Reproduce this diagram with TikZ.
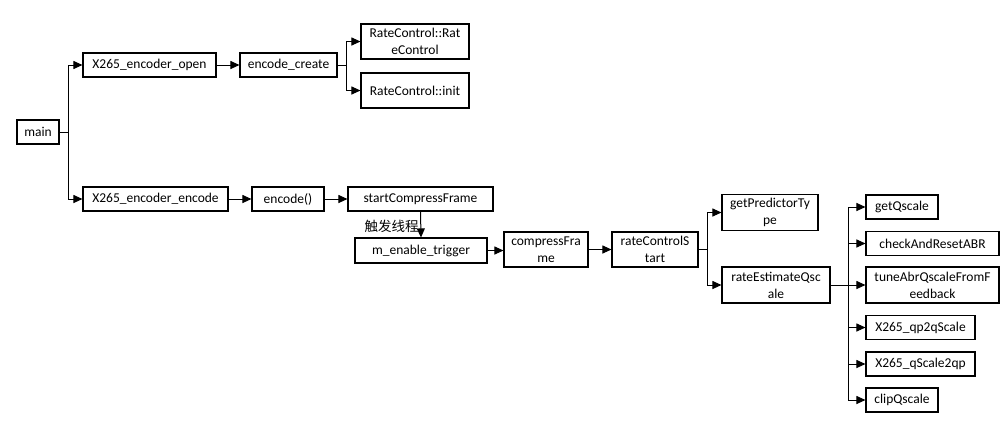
\documentclass[tikz,border=0pt]{standalone}
\usepackage{fontspec}
\setmainfont{Carlito}
\newfontfamily\cjk{Noto Sans CJK SC}
\usetikzlibrary{arrows.meta}
\tikzset{
  box/.style={draw=black, line width=1.1pt, fill=white, inner sep=0pt, align=center,
    font=\fontsize{13.5}{17}\selectfont, minimum height=24pt},
  arr/.style={line width=1pt, -{Triangle[length=9pt,width=8pt]}},
  ln/.style={line width=1pt}
}
\begin{document}
\begin{tikzpicture}[x=1pt,y=-1pt]
\useasboundingbox (0,0) rectangle (1008,423);
% nodes
\node[box, minimum width=42pt] (main) at (38,132) {main};
\node[box, minimum width=133pt] (open) at (149.5,65) {X265\_encoder\_open};
\node[box, minimum width=97pt] (create) at (288.5,65) {encode\_create};
\node[box, minimum width=108pt, minimum height=35pt] (rcrc) at (415,41.5) {RateControl::Rat\\eControl};
\node[box, minimum width=108pt, minimum height=35pt] (rcinit) at (415,90.5) {RateControl::init};
\node[box, minimum width=145pt] (enc) at (155.5,199) {X265\_encoder\_encode};
\node[box, minimum width=72pt] (encode) at (288,199) {encode()};
\node[box, minimum width=145pt] (scf) at (420.5,199) {startCompressFrame};
\node[box, minimum width=132pt, minimum height=25pt] (trig) at (421,250.5) {m\_enable\_trigger};
\node[box, minimum width=84pt, minimum height=35pt] (cf) at (546,249.5) {compressFra\\me};
\node[box, minimum width=86pt, minimum height=35pt] (rcs) at (655,249.5) {rateControlS\\tart};
\node[box, minimum width=96pt, minimum height=36pt] (gpt) at (770,212.5) {getPredictorTy\\pe};
\node[box, minimum width=108pt, minimum height=36pt] (req) at (776,285) {rateEstimateQsc\\ale};
\node[box, minimum width=72pt] (gq) at (902,207) {getQscale};
\node[box, minimum width=133pt] (car) at (932.5,243.5) {checkAndResetABR};
\node[box, minimum width=133pt, minimum height=36pt] (tune) at (932.5,285) {tuneAbrQscaleFromF\\eedback};
\node[box, minimum width=109pt] (qp2) at (920.5,327.5) {X265\_qp2qScale};
\node[box, minimum width=109pt] (qs2) at (920.5,364) {X265\_qScale2qp};
\node[box, minimum width=72pt] (clip) at (902,400) {clipQscale};
\node[font=\cjk\fontsize{13.5}{17}\selectfont, inner sep=0pt] (lbl) at (391.5,226) {触发线程};
% branch points
\coordinate (b1) at (68,132);
\coordinate (b2) at (346,65);
\coordinate (b3) at (707,249.5);
\coordinate (b4) at (848,285);
% connectors
\draw[ln] (main.east) -- (b1);
\draw[arr] (b1) |- (open.west);
\draw[arr] (b1) |- (enc.west);
\draw[arr] (open) -- (create);
\draw[ln] (create.east) -- (b2);
\draw[arr] (b2) |- (rcrc.west);
\draw[arr] (b2) |- (rcinit.west);
\draw[arr] (enc) -- (encode);
\draw[arr] (encode) -- (scf);
\draw[arr] (scf.south) -- (trig.north);
\draw[arr] (trig.east) -- (cf.west |- trig.east);
\draw[arr] (cf) -- (rcs);
\draw[ln] (rcs.east) -- (b3);
\draw[arr] (b3) |- (gpt.west);
\draw[arr] (b3) |- (req.west);
\draw[ln] (req.east) -- (b4);
\draw[arr] (b4) |- (gq.west);
\draw[arr] (b4) |- (car.west);
\draw[arr] (b4) |- (tune.west);
\draw[arr] (b4) |- (qp2.west);
\draw[arr] (b4) |- (qs2.west);
\draw[arr] (b4) |- (clip.west);
\end{tikzpicture}
\end{document}
